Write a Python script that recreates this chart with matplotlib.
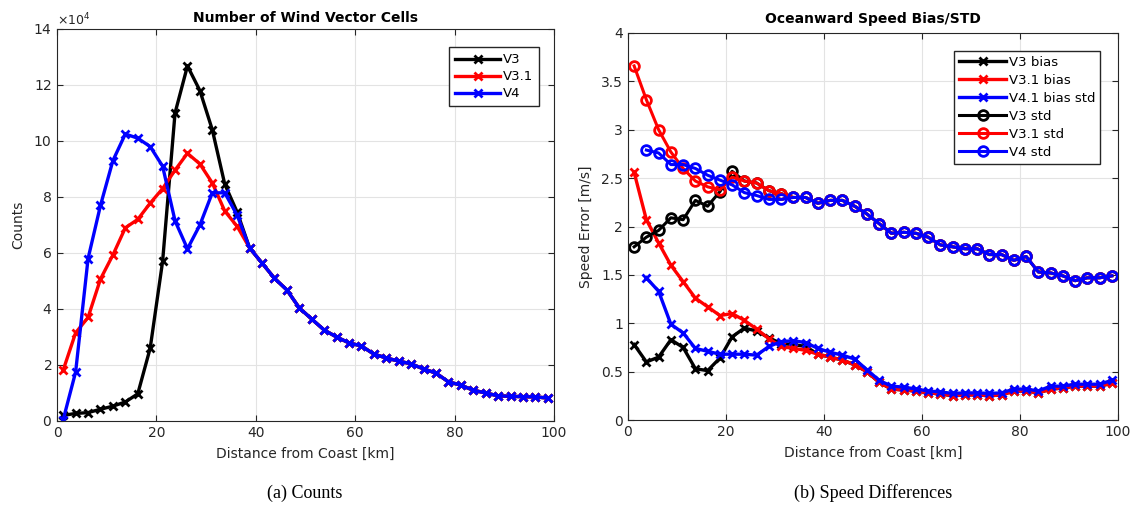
import numpy as np
import matplotlib
matplotlib.use('Agg')
import matplotlib.pyplot as plt
from matplotlib.ticker import FormatStrFormatter

# distance bins [km]
dist = np.arange(1.25, 100, 2.5)

# shared tail of the counts curves (38.75 km onward), in counts
tail = [61800, 56400, 51000, 46800, 40400, 36400, 32500, 30000, 27900, 26800,
        23900, 22500, 21400, 20400, 18600, 17100, 14000, 12800, 11000, 10000,
        9000, 8800, 8700, 8600, 8200]
counts_v3 = [2000, 2700, 3000, 4200, 5300, 6800, 9700, 26000, 57000, 110000,
             126800, 118000, 104000, 84600, 74600] + tail
counts_v31 = [18200, 31500, 37000, 50700, 59300, 69000, 72000, 77800, 83000, 89600,
              95600, 91800, 85000, 75000, 69500] + tail
counts_v4 = [500, 17500, 58000, 77000, 93000, 102500, 101000, 98000, 91000, 71500,
             61500, 70000, 81500, 81500, 73500] + tail

# speed bias / std [m/s]
bias_v3 = [0.78, 0.60, 0.65, 0.83, 0.75, 0.53, 0.51, 0.64, 0.86, 0.95,
           0.92, 0.85, 0.79, 0.78, 0.76]
bias_v31 = [2.56, 2.07, 1.83, 1.60, 1.43, 1.26, 1.17, 1.08, 1.10, 1.03,
            0.94, 0.84, 0.76, 0.74, 0.72, 0.68, 0.65, 0.62, 0.57, 0.50,
            0.39, 0.32, 0.31, 0.30, 0.28, 0.27, 0.25, 0.26, 0.26, 0.25,
            0.26, 0.30, 0.30, 0.28, 0.32, 0.33, 0.35, 0.35, 0.35, 0.38]
bias_v41 = [np.nan, 1.47, 1.33, 0.99, 0.90, 0.74, 0.71, 0.68, 0.68, 0.68,
            0.67, 0.76, 0.81, 0.82, 0.80, 0.74, 0.70, 0.67, 0.63, 0.52,
            0.41, 0.35, 0.34, 0.32, 0.30, 0.29, 0.275, 0.28, 0.28, 0.275,
            0.28, 0.32, 0.32, 0.30, 0.35, 0.35, 0.37, 0.37, 0.37, 0.41]
bias_v3 = bias_v3 + bias_v31[15:]

std_v4 = [np.nan, 2.79, 2.76, 2.64, 2.64, 2.60, 2.53, 2.48, 2.43, 2.35,
          2.32, 2.28, 2.28, 2.30, 2.30, 2.24, 2.27, 2.27, 2.21, 2.13,
          2.03, 1.93, 1.94, 1.93, 1.89, 1.81, 1.79, 1.77, 1.77, 1.71,
          1.71, 1.65, 1.69, 1.53, 1.52, 1.49, 1.44, 1.47, 1.47, 1.49]
std_v31 = [3.66, 3.31, 3.00, 2.77, 2.60, 2.47, 2.41, 2.38, 2.51, 2.47,
           2.45, 2.37, 2.34, 2.30, 2.30] + std_v4[15:]
std_v3 = [1.79, 1.89, 1.96, 2.09, 2.07, 2.27, 2.21, 2.36, 2.57] + std_v31[9:]

plt.rcParams['font.family'] = 'DejaVu Sans'
grey = '#262626'

fig = plt.figure(figsize=(11.33, 5.08), dpi=100)
W, H = 1133, 508
ax1 = fig.add_axes([57 / W, 1 - 421 / H, 497 / W, 392 / H])
ax2 = fig.add_axes([628 / W, 1 - 420 / H, 490 / W, 387 / H])

xkw = dict(marker='x', markersize=6, markeredgewidth=2, linewidth=2.4)
ax1.plot(dist, counts_v3, color='black', label='V3', **xkw)
ax1.plot(dist, counts_v31, color='red', label='V3.1', **xkw)
ax1.plot(dist, counts_v4, color='blue', label='V4', **xkw)
ax1.set_ylim(0, 140000)
ax1.set_yticks(np.arange(0, 140001, 20000))
ax1.ticklabel_format(style='sci', axis='y', scilimits=(4, 4), useMathText=True)
ax1.set_title('Number of Wind Vector Cells', fontsize=10, fontweight='bold', pad=5)
ax1.set_ylabel('Counts', fontsize=10, color=grey, labelpad=6)
ax1.legend(loc='upper right', fontsize=9.5, handlelength=3.4, fancybox=False,
           edgecolor=grey, framealpha=1, borderpad=0.45, labelspacing=0.3,
           handletextpad=0.2, bbox_to_anchor=(0.983, 0.97))

okw = dict(marker='o', markersize=7, markerfacecolor='none', markeredgewidth=2,
           linewidth=2.2)
ax2.plot(dist, bias_v3, color='black', label='V3 bias', **xkw)
ax2.plot(dist, bias_v31, color='red', label='V3.1 bias', **xkw)
ax2.plot(dist, bias_v41, color='blue', label='V4.1 bias std', **xkw)
ax2.plot(dist, std_v3, color='black', label='V3 std', **okw)
ax2.plot(dist, std_v31, color='red', label='V3.1 std', **okw)
ax2.plot(dist, std_v4, color='blue', label='V4 std', **okw)
ax2.set_ylim(0, 4)
ax2.set_yticks(np.arange(0, 4.01, 0.5))
ax2.yaxis.set_major_formatter(FormatStrFormatter('%g'))
ax2.set_title('Oceanward Speed Bias/STD', fontsize=10, fontweight='bold', pad=7)
ax2.set_ylabel('Speed Error [m/s]', fontsize=10, color=grey, labelpad=6)
ax2.legend(loc='upper right', fontsize=9.5, handlelength=3.6, fancybox=False,
           edgecolor=grey, framealpha=1, borderpad=0.35, labelspacing=0.38,
           handletextpad=0.2, bbox_to_anchor=(0.977, 0.97))

for ax in (ax1, ax2):
    ax.set_xlim(0, 100)
    ax.set_xticks(np.arange(0, 101, 20))
    ax.set_xlabel('Distance from Coast [km]', fontsize=10, color=grey, labelpad=5)
    ax.grid(True, color='#e3e3e3', linewidth=0.8)
    ax.set_axisbelow(True)
    ax.tick_params(direction='in', top=True, right=True, labelsize=10,
                   colors=grey, length=4)
    for s in ax.spines.values():
        s.set_color(grey)
        s.set_linewidth(0.8)
ax1.yaxis.get_offset_text().set_fontsize(9)
ax1.yaxis.get_offset_text().set_color(grey)

fig.text(305 / W, 1 - 493 / H, '(a) Counts', ha='center', va='center',
         fontsize=13, family='Liberation Serif')
fig.text(873 / W, 1 - 493 / H, '(b) Speed Differences', ha='center', va='center',
         fontsize=13, family='Liberation Serif')

fig.savefig('out.png', dpi=100)
